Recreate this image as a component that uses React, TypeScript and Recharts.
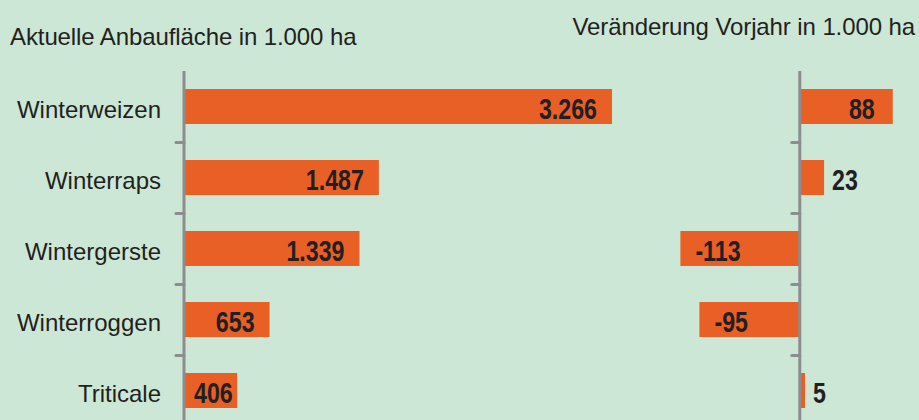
import React from "react";
import { BarChart, Bar, XAxis, YAxis, ReferenceLine, LabelList } from "recharts";

const categories = ["Winterweizen", "Winterraps", "Wintergerste", "Winterroggen", "Triticale"];
const areaValues = [3266, 1487, 1339, 653, 406];
const changeValues = [88, 23, -113, -95, 5];
const leftTitle = "Aktuelle Anbaufläche in 1.000 ha";
const rightTitle = "Veränderung Vorjahr in 1.000 ha";

const BG = "#cce7d6";
const BAR = "#e86026";
const AXIS = "#8d8d8f";
const TEXT = "#231f20";
const REG = "'Liberation Sans', Arial, sans-serif";
// no narrow face installed, so the bold labels are squeezed horizontally
const SQUEEZE = 0.8;

const fmt = (v: number) => String(v).replace(/\B(?=(\d{3})+(?!\d))/g, ".");

const areaData = categories.map((name, i) => ({ name, value: areaValues[i] }));
const changeData = categories.map((name, i) => ({ name, value: changeValues[i] }));

// axis line at zero plus small ticks at category boundaries
const AxisWithTicks = (props: any) => {
  const { x1, y1, y2 } = props;
  const n = categories.length;
  const step = (y2 - y1) / n;
  return (
    <g>
      <line x1={x1} y1={y1 - 1} x2={x1} y2={y2} stroke={AXIS} strokeWidth={3} />
      {categories.map((_, i) => (
        <line
          key={i}
          x1={x1 - 8}
          x2={x1}
          y1={y1 + i * step + 0.5}
          y2={y1 + i * step + 0.5}
          stroke={AXIS}
          strokeWidth={3}
          strokeLinecap="round"
        />
      ))}
    </g>
  );
};

const CategoryTick = (props: any) => {
  const { x, y, payload } = props;
  return (
    <text
      x={x - 23}
      y={y}
      dy={3}
      textAnchor="end"
      dominantBaseline="central"
      fontFamily={REG}
      fontSize={24}
      fill={TEXT}
    >
      {payload.value}
    </text>
  );
};

const getBox = (props: any) => {
  const vb = props.viewBox || {};
  const x = props.x ?? vb.x;
  const y = props.y ?? vb.y;
  const w = props.width ?? vb.width;
  const h = props.height ?? vb.height;
  return { left: Math.min(x, x + w), right: Math.max(x, x + w), cy: y + h / 2 };
};

const ValueText = ({ x, y, anchor, children }: any) => (
  <text
    transform={`translate(${x}, ${y}) scale(${SQUEEZE}, 1)`}
    x={0}
    y={0}
    dy={3}
    textAnchor={anchor}
    dominantBaseline="central"
    fontFamily={REG}
    fontWeight="bold"
    fontSize={29}
    fill={TEXT}
  >
    {children}
  </text>
);

const AreaLabel = (props: any) => {
  const { left, right, cy } = getBox(props);
  const inside = right - left > 80;
  return (
    <ValueText x={inside ? right - 15 : left + 10} y={cy} anchor={inside ? "end" : "start"}>
      {fmt(props.value)}
    </ValueText>
  );
};

const ChangeLabel = (props: any) => {
  const { left, right, cy } = getBox(props);
  const v = props.value;
  let x = right + 8;
  let anchor = "start";
  if (v < 0) {
    x = left + 15;
  } else if (right - left > 50) {
    x = right - 18;
    anchor = "end";
  }
  return (
    <ValueText x={x} y={cy} anchor={anchor}>
      {fmt(v)}
    </ValueText>
  );
};

export default function App() {
  return (
    <div
      style={{
        position: "absolute",
        left: 0,
        top: 0,
        width: 919,
        height: 420,
        overflow: "hidden",
        background: BG,
      }}
    >
      <div
        style={{
          position: "absolute",
          left: 10,
          top: 25,
          fontFamily: REG,
          fontSize: 24,
          lineHeight: "24px",
          color: TEXT,
          whiteSpace: "nowrap",
          letterSpacing: -0.1,
        }}
      >
        {leftTitle}
      </div>
      <div
        style={{
          position: "absolute",
          right: 4,
          top: 15,
          fontFamily: REG,
          fontSize: 24,
          lineHeight: "24px",
          color: TEXT,
          whiteSpace: "nowrap",
          letterSpacing: -0.1,
        }}
      >
        {rightTitle}
      </div>

      <div style={{ position: "absolute", left: 0, top: 0 }}>
        <BarChart
          width={682}
          height={430}
          data={areaData}
          layout="vertical"
          margin={{ top: 71, right: 0, bottom: 4, left: 0 }}
          barCategoryGap={0}
        >
          <XAxis type="number" domain={[0, 3800]} hide />
          <YAxis
            type="category"
            dataKey="name"
            width={184}
            axisLine={false}
            tickLine={false}
            tickSize={0}
            tickMargin={0}
            tick={<CategoryTick />}
          />
          <Bar dataKey="value" fill={BAR} barSize={35} isAnimationActive={false}>
            <LabelList dataKey="value" content={<AreaLabel />} />
          </Bar>
          <ReferenceLine x={0} shape={<AxisWithTicks />} />
        </BarChart>
      </div>

      <div style={{ position: "absolute", left: 600, top: 0 }}>
        <BarChart
          width={319}
          height={430}
          data={changeData}
          layout="vertical"
          margin={{ top: 71, right: 3, bottom: 4, left: 73 }}
          barCategoryGap={0}
        >
          <XAxis type="number" domain={[-120, 110]} hide />
          <YAxis type="category" dataKey="name" hide />
          <Bar dataKey="value" fill={BAR} barSize={35} isAnimationActive={false}>
            <LabelList dataKey="value" content={<ChangeLabel />} />
          </Bar>
          <ReferenceLine x={0} shape={<AxisWithTicks />} />
        </BarChart>
      </div>
    </div>
  );
}
